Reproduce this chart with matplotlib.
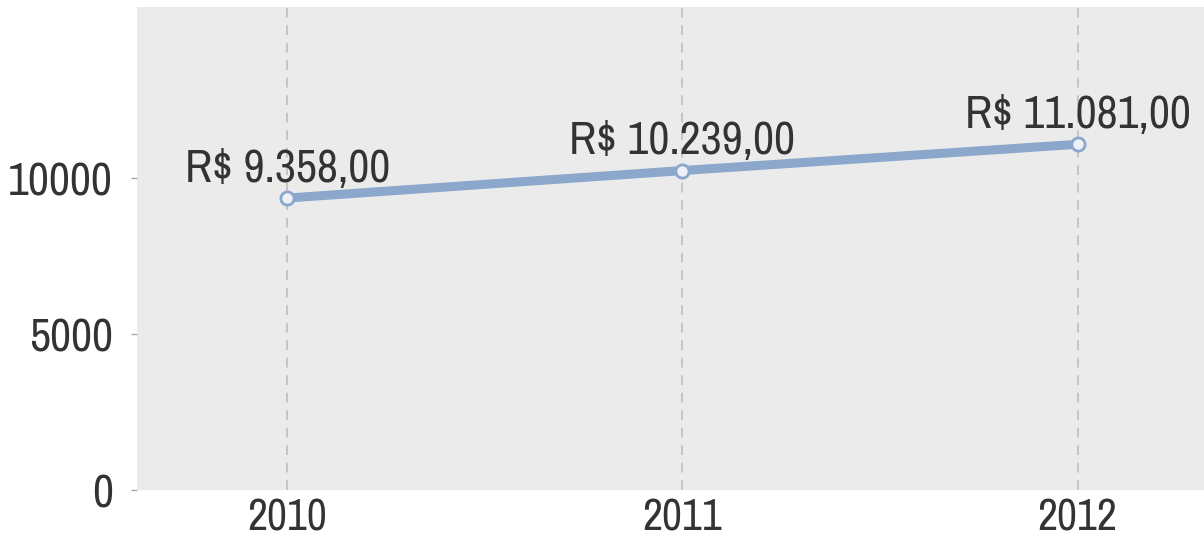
import matplotlib
matplotlib.use('Agg')
import matplotlib.pyplot as plt
from matplotlib import font_manager

years = ['2010', '2011', '2012']
values = [9358, 10239, 11081]
labels = ['R$ 9.358,00', 'R$ 10.239,00', 'R$ 11.081,00']
yticks = [0, 5000, 10000]

# narrow Arial-like face if there is one, else plain Liberation Sans a bit smaller
names = {f.name for f in font_manager.fontManager.ttflist}
fam, FS = ['Liberation Sans'], 26
for cand in ['Liberation Sans Narrow', 'Arial Narrow', 'Archivo Narrow', 'Roboto Condensed']:
    if cand in names:
        fam, FS = [cand], 33
        break
plt.rcParams['font.family'] = fam + ['DejaVu Sans']

TXT = '#333333'
LINE = '#8ba7cc'

fig = plt.figure(figsize=(12.04, 5.42), dpi=100)
ax = fig.add_axes([0.1138, 0.0959, 0.8862, 0.8911])
ax.set_facecolor('#ebebeb')

x = list(range(len(years)))
ax.plot(x, values, color=LINE, lw=6.5, solid_capstyle='round', zorder=3)
ax.plot(x, values, 'o', ms=9.5, mfc='#eef2f8', mec=LINE, mew=2, zorder=4)

for xi, v, lab in zip(x, values, labels):
    ax.annotate(lab, (xi, v), xytext=(0, 21), textcoords='offset points',
                ha='center', va='center', fontsize=FS, color=TXT, zorder=5)

for xi in x:
    ax.axvline(xi, color='#c4c4c4', lw=1.4, ls=(0, (5, 4)), zorder=1)

ax.set_xlim(-0.38, 2.32)
ax.set_ylim(0, 15480)
ax.set_xticks(x)
ax.set_xticklabels(years)
ax.set_yticks(yticks)
ax.tick_params(axis='x', length=0, pad=6, labelsize=FS - 1.5, labelcolor=TXT)
ax.tick_params(axis='y', length=4.5, width=1, color='#aaaaaa', pad=13,
               labelsize=FS, labelcolor=TXT)
for s in ax.spines.values():
    s.set_visible(False)

fig.savefig('out.png', dpi=100)
